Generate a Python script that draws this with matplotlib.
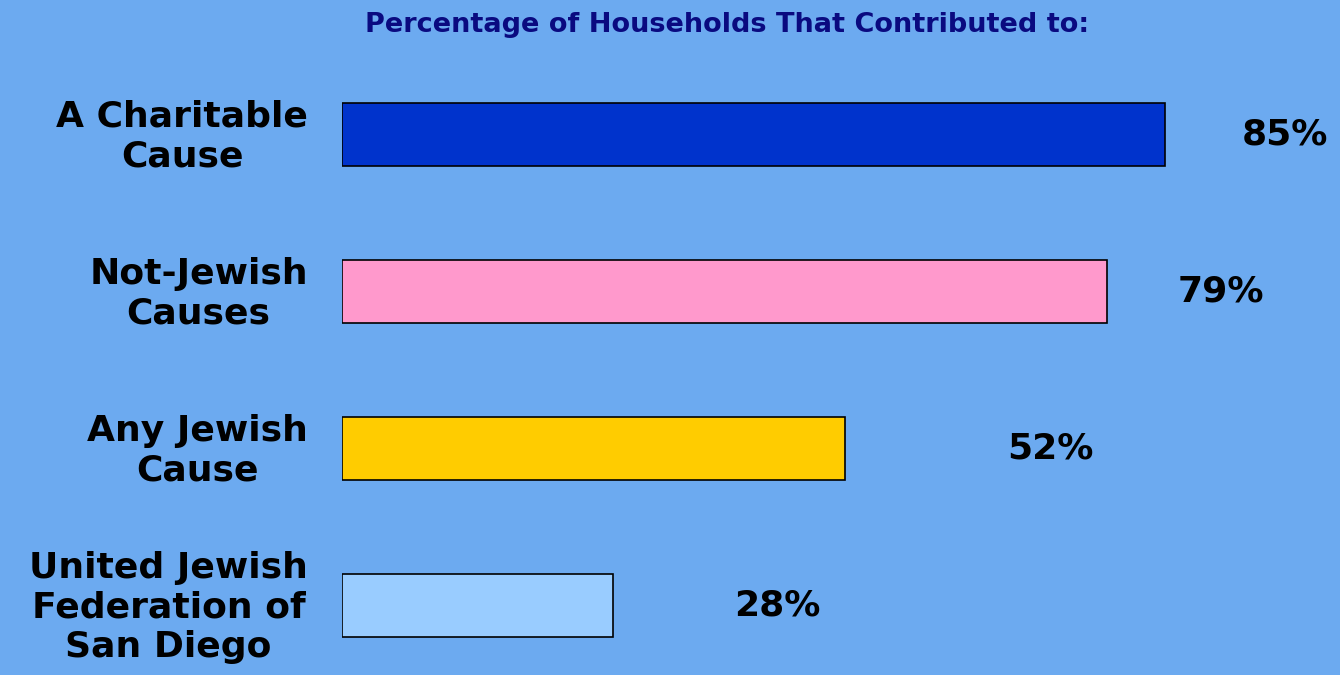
import matplotlib
matplotlib.use('Agg')
from matplotlib import pyplot as plt

# share of households giving to each kind of cause (%)
categories = ['A Charitable\nCause', 'Not-Jewish\nCauses', 'Any Jewish\nCause',
              'United Jewish\nFederation of\nSan Diego']
values = [85, 79, 52, 28]
colors = ['#0033CC', '#FF99CC', '#FFCC00', '#99CCFF']
label_gap = [12.4, 11.8, 21.2, 17.0]   # distance of value label past bar end

bg = '#6CAAF0'
W, H = 1340, 675
px_per_pct = 9.68
left_px = 342
row_px = 157
first_row_px = 134.5

fig = plt.figure(figsize=(W / 100, H / 100), dpi=100, facecolor=bg)
ax = fig.add_axes([left_px / W, 0, (W - left_px) / W, 1])
ax.set_facecolor(bg)
ax.set_xlim(0, (W - left_px) / px_per_pct)
ax.set_ylim((H - first_row_px) / row_px, -first_row_px / row_px)
ax.axis('off')

rows = range(len(values))
ax.barh(rows, values, height=63 / row_px, color=colors, edgecolor='black', linewidth=1.2)

for i, v in enumerate(values):
    ax.text(v + label_gap[i], i, '%d%%' % v, ha='center', va='center',
            fontsize=26, fontweight='bold', color='black')
    ax.text(308 / W, 1 - (first_row_px + 2 + i * row_px) / H, categories[i],
            transform=fig.transFigure, ha='right', va='center',
            multialignment='center', fontsize=26, fontweight='bold',
            color='black', linespacing=1.2)

fig.text(727 / W, 1 - 25 / H, 'Percentage of Households That Contributed to:',
         ha='center', va='center', fontsize=19.5, fontweight='bold', color='#0A0A80')

fig.savefig('out.png', dpi=100, facecolor=bg)
